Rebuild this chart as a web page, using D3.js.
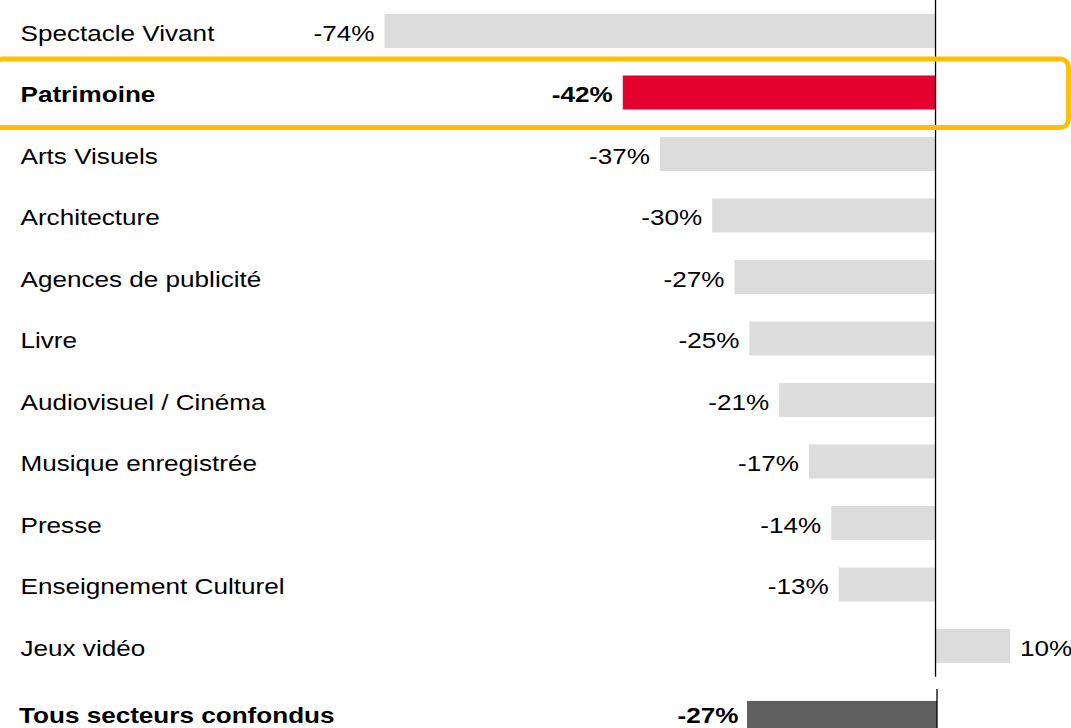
<!DOCTYPE html>
<html>
<head>
<meta charset="utf-8">
<script src="https://cdn.jsdelivr.net/npm/d3@7"></script>
<style>
  html, body { margin: 0; padding: 0; background: #fff; overflow: hidden; }
  svg { display: block; font-family: "Liberation Sans", Arial, sans-serif; }
</style>
</head>
<body>
<script>
// ---- Data ----
const categories = [
  "Spectacle Vivant", "Patrimoine", "Arts Visuels", "Architecture",
  "Agences de publicité", "Livre", "Audiovisuel / Cinéma",
  "Musique enregistrée", "Presse", "Enseignement Culturel", "Jeux vidéo"
];
const values = [-74, -42, -37, -30, -27, -25, -21, -17, -14, -13, 10];
const highlightCategory = "Patrimoine";
const totalCategory = ["Tous secteurs confondus"];
const totalValues = [-27];

// ---- Layout ----
const W = 1071, H = 728;
const fontSize = 22.5, sx = 1.16;
const colors = { bar: "#DCDCDC", highlight: "#E4002F", total: "#5F5F5F", box: "#FFC000", text: "#000" };

const svg = d3.select("body").append("svg").attr("width", W).attr("height", H);

const x = d3.scaleLinear().domain([-74, 10]).range([384.5, 1010]);
const y = d3.scaleBand().domain(categories).range([0.25, 676.75]).paddingInner(0.447).paddingOuter(0.2235);

const xT = d3.scaleLinear().domain([-27, 0]).range([747, 937]);
const yT = d3.scaleBand().domain(totalCategory).range([689, 762]).paddingInner(0.3).paddingOuter(0.15);

// bars
svg.append("g").selectAll("rect").data(categories).join("rect")
  .attr("x", (d, i) => Math.min(x(values[i]), x(0)))
  .attr("width", (d, i) => Math.abs(x(values[i]) - x(0)))
  .attr("y", d => y(d))
  .attr("height", y.bandwidth())
  .attr("fill", d => d === highlightCategory ? colors.highlight : colors.bar);

// zero line (upper)
svg.append("line")
  .attr("x1", x(0)).attr("x2", x(0))
  .attr("y1", 0).attr("y2", y.range()[1])
  .attr("stroke", "#000").attr("stroke-width", 1.3);

// category labels
function stretchedText(g, tx, ty, txt, anchor, bold) {
  g.append("text")
    .attr("transform", `translate(${tx},${ty}) scale(${sx},1)`)
    .attr("text-anchor", anchor)
    .attr("font-size", fontSize)
    .attr("font-weight", bold ? "bold" : "normal")
    .attr("fill", colors.text)
    .text(txt);
}
const labels = svg.append("g");
categories.forEach((c, i) => {
  const cy = y(c) + y.bandwidth() / 2;
  const bold = c === highlightCategory;
  stretchedText(labels, 20.5, cy + 9.5, c, "start", bold);
  const v = values[i];
  const txt = (v > 0 ? "" : "-") + Math.abs(v) + "%";
  if (v < 0) stretchedText(labels, x(v) - 10, cy + 9.5, txt, "end", bold);
  else stretchedText(labels, x(v) + 10, cy + 9.5, txt, "start", bold);
});

// highlight box
const hy = y(highlightCategory);
svg.append("rect")
  .attr("x", -6).attr("y", hy - 16.5)
  .attr("width", 1074.5).attr("height", 68.5)
  .attr("rx", 8).attr("ry", 8)
  .attr("fill", "none")
  .attr("stroke", colors.box).attr("stroke-width", 4.8);

// total section
svg.append("g").selectAll("rect").data(totalCategory).join("rect")
  .attr("x", (d, i) => xT(totalValues[i]))
  .attr("width", (d, i) => xT(0) - xT(totalValues[i]))
  .attr("y", d => yT(d) + 1)
  .attr("height", yT.bandwidth())
  .attr("fill", colors.total);

svg.append("line")
  .attr("x1", xT(0)).attr("x2", xT(0))
  .attr("y1", 689).attr("y2", H)
  .attr("stroke", "#000").attr("stroke-width", 1.3);

totalCategory.forEach((c, i) => {
  stretchedText(svg, 19, 723, c, "start", true);
  stretchedText(svg, xT(totalValues[i]) - 8.5, 723, "-" + Math.abs(totalValues[i]) + "%", "end", true);
});
</script>
</body>
</html>
